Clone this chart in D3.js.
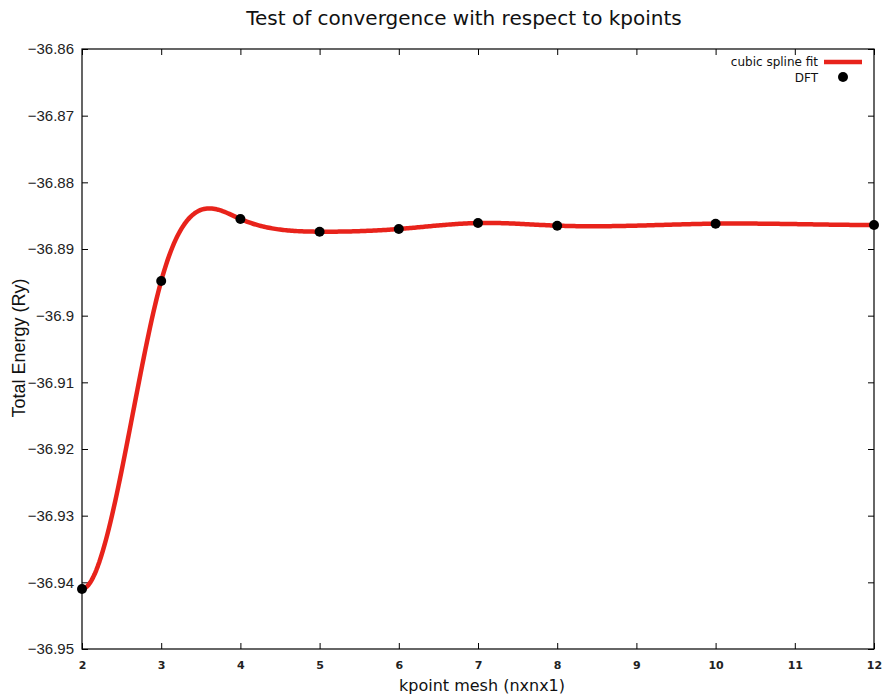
<!DOCTYPE html>
<html>
<head>
<meta charset="utf-8">
<script src="https://cdn.jsdelivr.net/npm/d3@7"></script>
<style>
  body { margin: 0; background: #fff; }
  svg { display: block; }
</style>
</head>
<body>
<svg id="chart" width="888" height="700"></svg>
<script>
// k-point mesh sizes (n for an n x n x 1 mesh) and DFT total energies (Ry)
const kpoints = [2, 3, 4, 5, 6, 7, 8, 10, 12];
const energies = [-36.9410, -36.8948, -36.8855, -36.8874, -36.8870, -36.8861, -36.8865, -36.8862, -36.8864];
const xTicks = [2, 3, 4, 5, 6, 7, 8, 9, 10, 11, 12];
const yTicks = [-36.86, -36.87, -36.88, -36.89, -36.90, -36.91, -36.92, -36.93, -36.94, -36.95];

const svg = d3.select("#chart");
const margin = { left: 82, right: 874, top: 49, bottom: 649 };

const x = d3.scaleLinear().domain([2, 12]).range([margin.left, margin.right]);
const y = d3.scaleLinear().domain([-36.95, -36.86]).range([margin.bottom, margin.top]);

// Clamped cubic spline y(x) through the DFT points (zero slope at both ends)
function clampedSpline(xs, ys, d0, dn) {
  const n = xs.length;
  const h = [];
  for (let i = 0; i < n - 1; i++) h.push(xs[i + 1] - xs[i]);
  const alpha = new Array(n).fill(0);
  alpha[0] = 3 * (ys[1] - ys[0]) / h[0] - 3 * d0;
  alpha[n - 1] = 3 * dn - 3 * (ys[n - 1] - ys[n - 2]) / h[n - 2];
  for (let i = 1; i < n - 1; i++) {
    alpha[i] = 3 / h[i] * (ys[i + 1] - ys[i]) - 3 / h[i - 1] * (ys[i] - ys[i - 1]);
  }
  const l = [2 * h[0]], mu = [0.5], z = [alpha[0] / l[0]];
  for (let i = 1; i < n - 1; i++) {
    l[i] = 2 * (xs[i + 1] - xs[i - 1]) - h[i - 1] * mu[i - 1];
    mu[i] = h[i] / l[i];
    z[i] = (alpha[i] - h[i - 1] * z[i - 1]) / l[i];
  }
  l[n - 1] = h[n - 2] * (2 - mu[n - 2]);
  z[n - 1] = (alpha[n - 1] - h[n - 2] * z[n - 2]) / l[n - 1];
  const c = new Array(n).fill(0), b = [], d = [];
  c[n - 1] = z[n - 1];
  for (let j = n - 2; j >= 0; j--) {
    c[j] = z[j] - mu[j] * c[j + 1];
    b[j] = (ys[j + 1] - ys[j]) / h[j] - h[j] * (c[j + 1] + 2 * c[j]) / 3;
    d[j] = (c[j + 1] - c[j]) / (3 * h[j]);
  }
  return function (t) {
    let i = 0;
    while (i < n - 2 && t > xs[i + 1]) i++;
    const dx = t - xs[i];
    return ys[i] + b[i] * dx + c[i] * dx * dx + d[i] * dx * dx * dx;
  };
}

const spline = clampedSpline(kpoints, energies, 0, 0);
const fitPts = d3.range(2, 12.0001, 0.02).map(t => [t, spline(t)]);

// axes frame
svg.append("rect")
  .attr("x", margin.left).attr("y", margin.top)
  .attr("width", margin.right - margin.left).attr("height", margin.bottom - margin.top)
  .attr("fill", "none").attr("stroke", "#000").attr("stroke-width", 1.2);

// bottom and mirrored top ticks
const xAxisB = d3.axisBottom(x).tickValues(xTicks).tickSize(-6).tickPadding(12).tickFormat(d3.format("d"));
const gxb = svg.append("g").attr("transform", `translate(0,${margin.bottom})`).call(xAxisB);
gxb.select(".domain").remove();
gxb.selectAll("text").attr("font-family", "DejaVu Sans").attr("font-weight", "bold")
  .attr("font-size", 11).attr("fill", "#222");

const xAxisT = d3.axisTop(x).tickValues(xTicks).tickSize(-6).tickFormat("");
const gxt = svg.append("g").attr("transform", `translate(0,${margin.top})`).call(xAxisT);
gxt.select(".domain").remove();

// left and mirrored right ticks
const yAxisL = d3.axisLeft(y).tickValues(yTicks).tickSize(-6).tickPadding(8).tickFormat(d => d3.format("")(+d.toFixed(2)));
const gyl = svg.append("g").attr("transform", `translate(${margin.left},0)`).call(yAxisL);
gyl.select(".domain").remove();
gyl.selectAll("text").attr("font-family", "Liberation Sans").attr("font-size", 15).attr("fill", "#222");

const yAxisR = d3.axisRight(y).tickValues(yTicks).tickSize(-6).tickFormat("");
const gyr = svg.append("g").attr("transform", `translate(${margin.right},0)`).call(yAxisR);
gyr.select(".domain").remove();

svg.selectAll(".tick line").attr("stroke", "#000").attr("stroke-width", 1);

// spline fit
svg.append("path")
  .datum(fitPts)
  .attr("fill", "none")
  .attr("stroke", "#e8231b")
  .attr("stroke-width", 4.5)
  .attr("stroke-linejoin", "round")
  .attr("d", d3.line().x(d => x(d[0])).y(d => y(d[1])));

// DFT points
svg.append("g").selectAll("circle")
  .data(kpoints.map((k, i) => [k, energies[i]]))
  .join("circle")
  .attr("cx", d => x(d[0])).attr("cy", d => y(d[1]))
  .attr("r", 5).attr("fill", "#000");

// title and axis labels
svg.append("text")
  .attr("x", 464).attr("y", 25).attr("text-anchor", "middle")
  .attr("font-family", "DejaVu Sans").attr("font-size", 20).attr("fill", "#111")
  .text("Test of convergence with respect to kpoints");

svg.append("text")
  .attr("x", 482).attr("y", 691).attr("text-anchor", "middle")
  .attr("font-family", "DejaVu Sans").attr("font-size", 16).attr("fill", "#111")
  .text("kpoint mesh (nxnx1)");

svg.append("text")
  .attr("transform", "translate(25,348) rotate(-90)").attr("text-anchor", "middle")
  .attr("font-family", "Liberation Sans").attr("font-size", 18).attr("fill", "#111")
  .text("Total Energy (Ry)");

// legend
const legend = svg.append("g").attr("font-family", "DejaVu Sans").attr("font-size", 12).attr("fill", "#111");
legend.append("text").attr("x", 818).attr("y", 66).attr("text-anchor", "end").text("cubic spline fit");
legend.append("line").attr("x1", 824).attr("x2", 862).attr("y1", 62).attr("y2", 62)
  .attr("stroke", "#e8231b").attr("stroke-width", 4.5);
legend.append("text").attr("x", 818).attr("y", 82).attr("text-anchor", "end").text("DFT");
legend.append("circle").attr("cx", 843).attr("cy", 77).attr("r", 5).attr("fill", "#000");
</script>
</body>
</html>
